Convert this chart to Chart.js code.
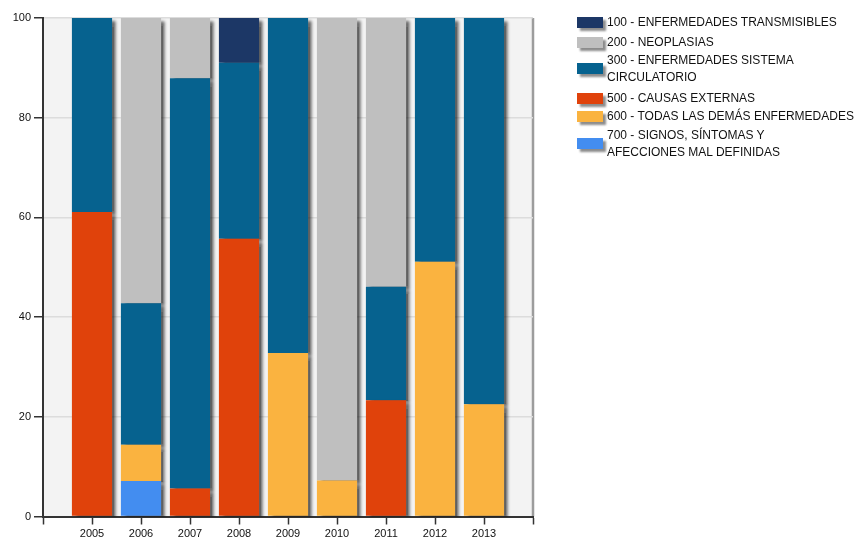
<!DOCTYPE html>
<html>
<head>
<meta charset="utf-8">
<script src="https://cdn.jsdelivr.net/npm/chart.js@4.4.1/dist/chart.umd.min.js"></script>
<style>
  html, body { margin: 0; padding: 0; background: #fff; }
  #wrap { position: relative; width: 858px; height: 542px; overflow: hidden; }
  #c { position: absolute; left: 0; top: 0; }
  #legend {
    position: absolute; left: 577px; top: 0;
    font-family: "Liberation Sans", Arial, sans-serif; font-size: 12px; color: #111;
  }
  #legend .item { position: absolute; left: 0; display: flex; align-items: center; white-space: pre; line-height: 17px; }
  #legend .item:nth-child(1) { top: 13.5px; }
  #legend .item:nth-child(2) { top: 33.5px; }
  #legend .item:nth-child(3) { top: 51.5px; }
  #legend .item:nth-child(4) { top: 89.5px; }
  #legend .item:nth-child(5) { top: 107.5px; }
  #legend .item:nth-child(6) { top: 126.5px; }
  #legend .sw { width: 26px; height: 11px; margin-right: 4px; flex: none; box-shadow: 3px 3px 2px rgba(0,0,0,0.45); }
</style>
</head>
<body>
<div id="wrap">
  <canvas id="c" width="858" height="542"></canvas>
  <div id="legend"></div>
</div>
<script>
// Years on the horizontal axis
const years = ['2005', '2006', '2007', '2008', '2009', '2010', '2011', '2012', '2013'];

// Share of deaths (%) per cause group and year
const transmisibles = [null, null, null, 9.0, null, null, null, null, null];
const neoplasias    = [null, 57.2, 12.1, null, null, 92.8, 53.9, null, null];
const circulatorio  = [38.9, 28.4, 82.3, 35.3, 67.2, null, 22.8, 48.9, 77.5];
const externas      = [61.1, null, 5.6, 55.7, null, null, 23.3, null, null];
const demas         = [null, 7.3, null, null, 32.8, 7.2, null, 51.1, 22.5];
const signos        = [null, 7.1, null, null, null, null, null, null, null];

// Legend texts, in legend order
const seriesNames = [
  '100 - ENFERMEDADES TRANSMISIBLES',
  '200 - NEOPLASIAS',
  '300 - ENFERMEDADES SISTEMA\nCIRCULATORIO',
  '500 - CAUSAS EXTERNAS',
  '600 - TODAS LAS DEMÁS ENFERMEDADES',
  '700 - SIGNOS, SÍNTOMAS Y\nAFECCIONES MAL DEFINIDAS'
];
const seriesValues = [transmisibles, neoplasias, circulatorio, externas, demas, signos];
const seriesColors = ['#1c3766', '#bfbfbf', '#06628f', '#e0420b', '#fab340', '#438df0'];

// Y axis ticks
const yTicks = [0, 20, 40, 60, 80, 100];

// The axis has one empty slot on each side of the years
const axisLabels = [''].concat(years, ['']);
const pad = arr => [null].concat(arr, [null]);

// Stacked from the bottom: 700, 600, 500, 300, 200, 100
const datasets = seriesNames.map((name, i) => ({
  label: name,
  data: pad(seriesValues[i]),
  backgroundColor: seriesColors[i],
  borderWidth: 0,
  categoryPercentage: 1.0,
  barPercentage: 0.82
})).reverse();

const plotDecor = {
  id: 'plotDecor',
  beforeDraw(chart) {
    const { ctx, chartArea: a } = chart;
    ctx.save();
    ctx.fillStyle = '#f3f3f3';
    ctx.fillRect(a.left, a.top, a.right - a.left, a.bottom - a.top);
    ctx.strokeStyle = '#9c9c9c';
    ctx.lineWidth = 2.5;
    ctx.beginPath();
    ctx.moveTo(a.right, a.top);
    ctx.lineTo(a.right, a.bottom);
    ctx.stroke();
    ctx.restore();
  },
  beforeDatasetsDraw(chart) {
    const ctx = chart.ctx;
    ctx.save();
    ctx.shadowColor = 'rgba(0,0,0,0.6)';
    ctx.shadowOffsetX = 4;
    ctx.shadowOffsetY = 3;
    ctx.shadowBlur = 3;
  },
  afterDatasetsDraw(chart) {
    chart.ctx.restore();
  }
};

const tickFont = { family: '"Liberation Sans", Arial, sans-serif', size: 11 };

new Chart(document.getElementById('c'), {
  type: 'bar',
  data: { labels: axisLabels, datasets },
  options: {
    responsive: false,
    devicePixelRatio: 1,
    animation: false,
    layout: { padding: { left: 0, top: 18, right: 325, bottom: 0 } },
    plugins: { legend: { display: false }, tooltip: { enabled: false } },
    scales: {
      x: {
        stacked: true,
        offset: false,
        grid: { display: true, offset: false, drawOnChartArea: false, tickLength: 8, tickColor: '#333', tickWidth: 1.5 },
        border: { display: true, color: '#333', width: 2 },
        ticks: { font: tickFont, color: '#111', padding: 3, maxRotation: 0, autoSkip: false },
        afterFit(scale) { scale.height = 25.5; }
      },
      y: {
        stacked: true,
        min: 0,
        max: 100,
        afterBuildTicks(scale) { scale.ticks = yTicks.map(v => ({ value: v })); },
        grid: { color: '#dcdcdc', lineWidth: 1.5, tickLength: 9, tickColor: '#333', tickWidth: 1.5 },
        border: { display: true, color: '#333', width: 2 },
        ticks: { font: tickFont, color: '#111', padding: 3 },
        afterFit(scale) { scale.width = 43; }
      }
    }
  },
  plugins: [plotDecor]
});

// HTML legend
const legend = document.getElementById('legend');
seriesNames.forEach((name, i) => {
  const item = document.createElement('div');
  item.className = 'item';
  const sw = document.createElement('span');
  sw.className = 'sw';
  sw.style.background = seriesColors[i];
  const txt = document.createElement('span');
  txt.textContent = name;
  item.appendChild(sw);
  item.appendChild(txt);
  legend.appendChild(item);
});
</script>
</body>
</html>
